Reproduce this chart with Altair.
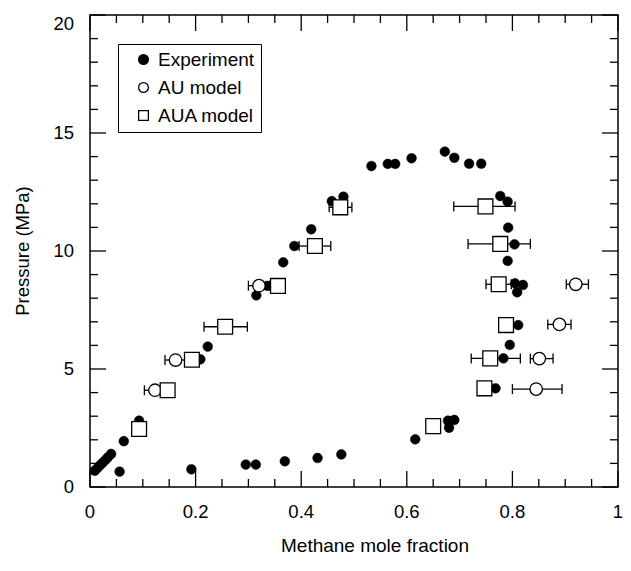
import altair as alt
import pandas as pd

# ---------------- data ----------------
exp_x = [0.009, 0.014, 0.019, 0.024, 0.029, 0.034, 0.040, 0.056, 0.064, 0.093,
         0.192, 0.295, 0.314, 0.369, 0.431, 0.476, 0.616, 0.678, 0.690, 0.680,
         0.768, 0.209, 0.223, 0.315, 0.336, 0.366, 0.387, 0.419, 0.458, 0.480,
         0.533, 0.564, 0.578, 0.609, 0.672, 0.690, 0.718, 0.741, 0.777, 0.791,
         0.792, 0.804, 0.791, 0.805, 0.820, 0.809, 0.811, 0.795, 0.783]
exp_p = [0.69, 0.80, 0.92, 1.03, 1.14, 1.26, 1.40, 0.65, 1.94, 2.81,
         0.75, 0.95, 0.95, 1.09, 1.23, 1.38, 2.02, 2.81, 2.84, 2.51,
         4.18, 5.41, 5.95, 8.12, 8.52, 9.52, 10.21, 10.92, 12.11, 12.30,
         13.60, 13.69, 13.69, 13.93, 14.21, 13.95, 13.70, 13.70, 12.33, 12.09,
         10.99, 10.28, 9.58, 8.63, 8.56, 8.25, 6.86, 6.02, 5.45]

au_x = [0.123, 0.162, 0.320, 0.845, 0.851, 0.889, 0.920]
au_p = [4.10, 5.38, 8.53, 4.15, 5.44, 6.89, 8.59]
au_lo = [0.103, 0.142, 0.300, 0.800, 0.834, 0.867, 0.902]
au_hi = [0.143, 0.182, 0.340, 0.894, 0.877, 0.911, 0.944]

aua_x = [0.093, 0.147, 0.193, 0.256, 0.356, 0.426, 0.474, 0.650, 0.747, 0.758, 0.788, 0.774, 0.777, 0.749]
aua_p = [2.46, 4.10, 5.39, 6.79, 8.52, 10.21, 11.85, 2.58, 4.18, 5.45, 6.86, 8.59, 10.30, 11.89]
aua_lo = [0.093, 0.147, 0.193, 0.216, 0.356, 0.396, 0.453, 0.650, 0.747, 0.722, 0.788, 0.750, 0.716, 0.689]
aua_hi = [0.093, 0.147, 0.193, 0.298, 0.356, 0.456, 0.496, 0.650, 0.747, 0.815, 0.788, 0.798, 0.834, 0.805]

series_names = ["Experiment", "AU model", "AUA model"]
x_major = [0, 0.2, 0.4, 0.6, 0.8, 1.0]
x_labels = ["0", "0.2", "0.4", "0.6", "0.8", "1"]
x_minor = [0.05, 0.1, 0.15, 0.25, 0.3, 0.35, 0.45, 0.5, 0.55, 0.65, 0.7, 0.75, 0.85, 0.9, 0.95]
y_major = [0, 5, 10, 15, 20]
y_labels = ["0", "5", "10", "15", "20"]
y_minor = [1, 2, 3, 4, 6, 7, 8, 9, 11, 12, 13, 14, 16, 17, 18, 19]
x_title = "Methane mole fraction"
y_title = "Pressure (MPa)"

# ---------------- tables ----------------
exp_df = pd.DataFrame({"x": exp_x, "p": exp_p, "series": series_names[0]})
au_df = pd.DataFrame({"x": au_x, "p": au_p, "lo": au_lo, "hi": au_hi, "series": series_names[1]})
aua_df = pd.DataFrame({"x": aua_x, "p": aua_p, "lo": aua_lo, "hi": aua_hi, "series": series_names[2]})
err_df = pd.concat([au_df, aua_df], ignore_index=True)
err_df = err_df[err_df["hi"] > err_df["lo"]].reset_index(drop=True)
caps_df = pd.concat([
    pd.DataFrame({"x": err_df["lo"], "p": err_df["p"]}),
    pd.DataFrame({"x": err_df["hi"], "p": err_df["p"]}),
], ignore_index=True)

W, H = 528, 472
FONT = "Liberation Sans"
FS = 18.5
MAJ, MIN = 16, 8
LW = 1.3

xscale = alt.Scale(domain=[0, 1], nice=False, zero=False)
yscale = alt.Scale(domain=[0, 20], nice=False, zero=False)

shape_scale = alt.Scale(domain=series_names, range=["circle", "circle", "square"])
fill_scale = alt.Scale(domain=series_names, range=["black", "white", "white"])
stroke_scale = alt.Scale(domain=series_names, range=["black", "black", "black"])

PAD = "\u2007" * 5
leg = alt.Legend(
    title=None, orient="none", legendX=28, legendY=29,
    strokeColor="black", fillColor="white", padding=6, rowPadding=8,
    symbolSize=95, symbolStrokeWidth=LW,
    labelFont=FONT, labelFontSize=19, labelColor="black",
    symbolOffset=10, labelOffset=5,
    labelExpr="datum.value + '" + PAD + "'",
)

exp_layer = alt.Chart(exp_df).mark_point(filled=True, size=95, strokeWidth=0.5, opacity=1).encode(
    x=alt.X("x:Q", scale=xscale, axis=None),
    y=alt.Y("p:Q", scale=yscale, axis=None),
    shape=alt.Shape("series:N", scale=shape_scale, legend=leg),
    fill=alt.Fill("series:N", scale=fill_scale, legend=leg),
    stroke=alt.Stroke("series:N", scale=stroke_scale, legend=leg),
)

err_layer = alt.Chart(err_df).mark_rule(color="black", strokeWidth=LW).encode(
    x=alt.X("lo:Q", scale=xscale, axis=None),
    x2="hi:Q",
    y=alt.Y("p:Q", scale=yscale, axis=None),
)
cap_layer = alt.Chart(caps_df).mark_tick(orient="vertical", size=10, thickness=LW, color="black", opacity=1).encode(
    x=alt.X("x:Q", scale=xscale, axis=None),
    y=alt.Y("p:Q", scale=yscale, axis=None),
)

def model_layer(df, size):
    return alt.Chart(df).mark_point(filled=True, size=size, strokeWidth=LW, opacity=1).encode(
        x=alt.X("x:Q", scale=xscale, axis=None),
        y=alt.Y("p:Q", scale=yscale, axis=None),
        shape=alt.Shape("series:N", scale=shape_scale, legend=leg),
        fill=alt.Fill("series:N", scale=fill_scale, legend=leg),
        stroke=alt.Stroke("series:N", scale=stroke_scale, legend=leg),
    )

au_layer = model_layer(au_df, 155)
aua_layer = model_layer(aua_df, 220)

def xticks(vals, length, top):
    df = pd.DataFrame({"v": vals})
    if top:
        yy, yy2 = 0, length
    else:
        yy, yy2 = H, H - length
    return alt.Chart(df).mark_rule(color="black", strokeWidth=LW).encode(
        x=alt.X("v:Q", scale=xscale, axis=None),
        y=alt.value(yy), y2=alt.value(yy2),
    )

def yticks(vals, length, right):
    df = pd.DataFrame({"v": vals})
    if right:
        xx, xx2 = W, W - length
    else:
        xx, xx2 = 0, length
    return alt.Chart(df).mark_rule(color="black", strokeWidth=LW).encode(
        y=alt.Y("v:Q", scale=yscale, axis=None),
        x=alt.value(xx), x2=alt.value(xx2),
    )

tick_layers = [
    xticks(x_major, MAJ, False), xticks(x_minor, MIN, False),
    xticks(x_major, MAJ, True), xticks(x_minor, MIN, True),
    yticks(y_major, MAJ, False), yticks(y_minor, MIN, False),
    yticks(y_major, MAJ, True), yticks(y_minor, MIN, True),
]

# tick labels
xlab_df = pd.DataFrame({"v": x_major, "t": x_labels})
xlab_layer = alt.Chart(xlab_df).mark_text(
    font=FONT, fontSize=FS, color="black", align="center", baseline="top"
).encode(
    x=alt.X("v:Q", scale=xscale, axis=None), y=alt.value(H + 16), text="t:N"
)
ylab_df = pd.DataFrame({"v": y_major[:-1], "t": y_labels[:-1]})
ylab_layer = alt.Chart(ylab_df).mark_text(
    font=FONT, fontSize=FS, color="black", align="right", baseline="middle"
).encode(
    y=alt.Y("v:Q", scale=yscale, axis=None), x=alt.value(-16), text="t:N"
)
ytop_df = pd.DataFrame({"v": y_major[-1:], "t": y_labels[-1:]})
ytop_layer = alt.Chart(ytop_df).mark_text(
    font=FONT, fontSize=FS, color="black", align="right", baseline="top"
).encode(
    y=alt.Y("v:Q", scale=yscale, axis=None), x=alt.value(-16), text="t:N"
)

# axis titles
xt_layer = alt.Chart(pd.DataFrame({"t": [x_title]})).mark_text(
    font=FONT, fontSize=19, color="black", align="center", baseline="alphabetic"
).encode(x=alt.value(285), y=alt.value(H + 65), text="t:N")
yt_layer = alt.Chart(pd.DataFrame({"t": [y_title]})).mark_text(
    font=FONT, fontSize=FS, color="black", align="center", baseline="middle", angle=270
).encode(x=alt.value(-67), y=alt.value(H / 2), text="t:N")

chart = alt.layer(
    exp_layer, err_layer, cap_layer, au_layer, aua_layer, *tick_layers,
    xlab_layer, ylab_layer, ytop_layer, xt_layer, yt_layer,
).properties(
    width=W, height=H,
    autosize=alt.AutoSizeParams(type="none"),
    padding={"left": 82, "top": 7, "right": 5, "bottom": 71},
).configure_view(
    stroke="black", strokeWidth=1.5
)

chart.save("out.html", embed_options={"renderer": "svg", "actions": False})
